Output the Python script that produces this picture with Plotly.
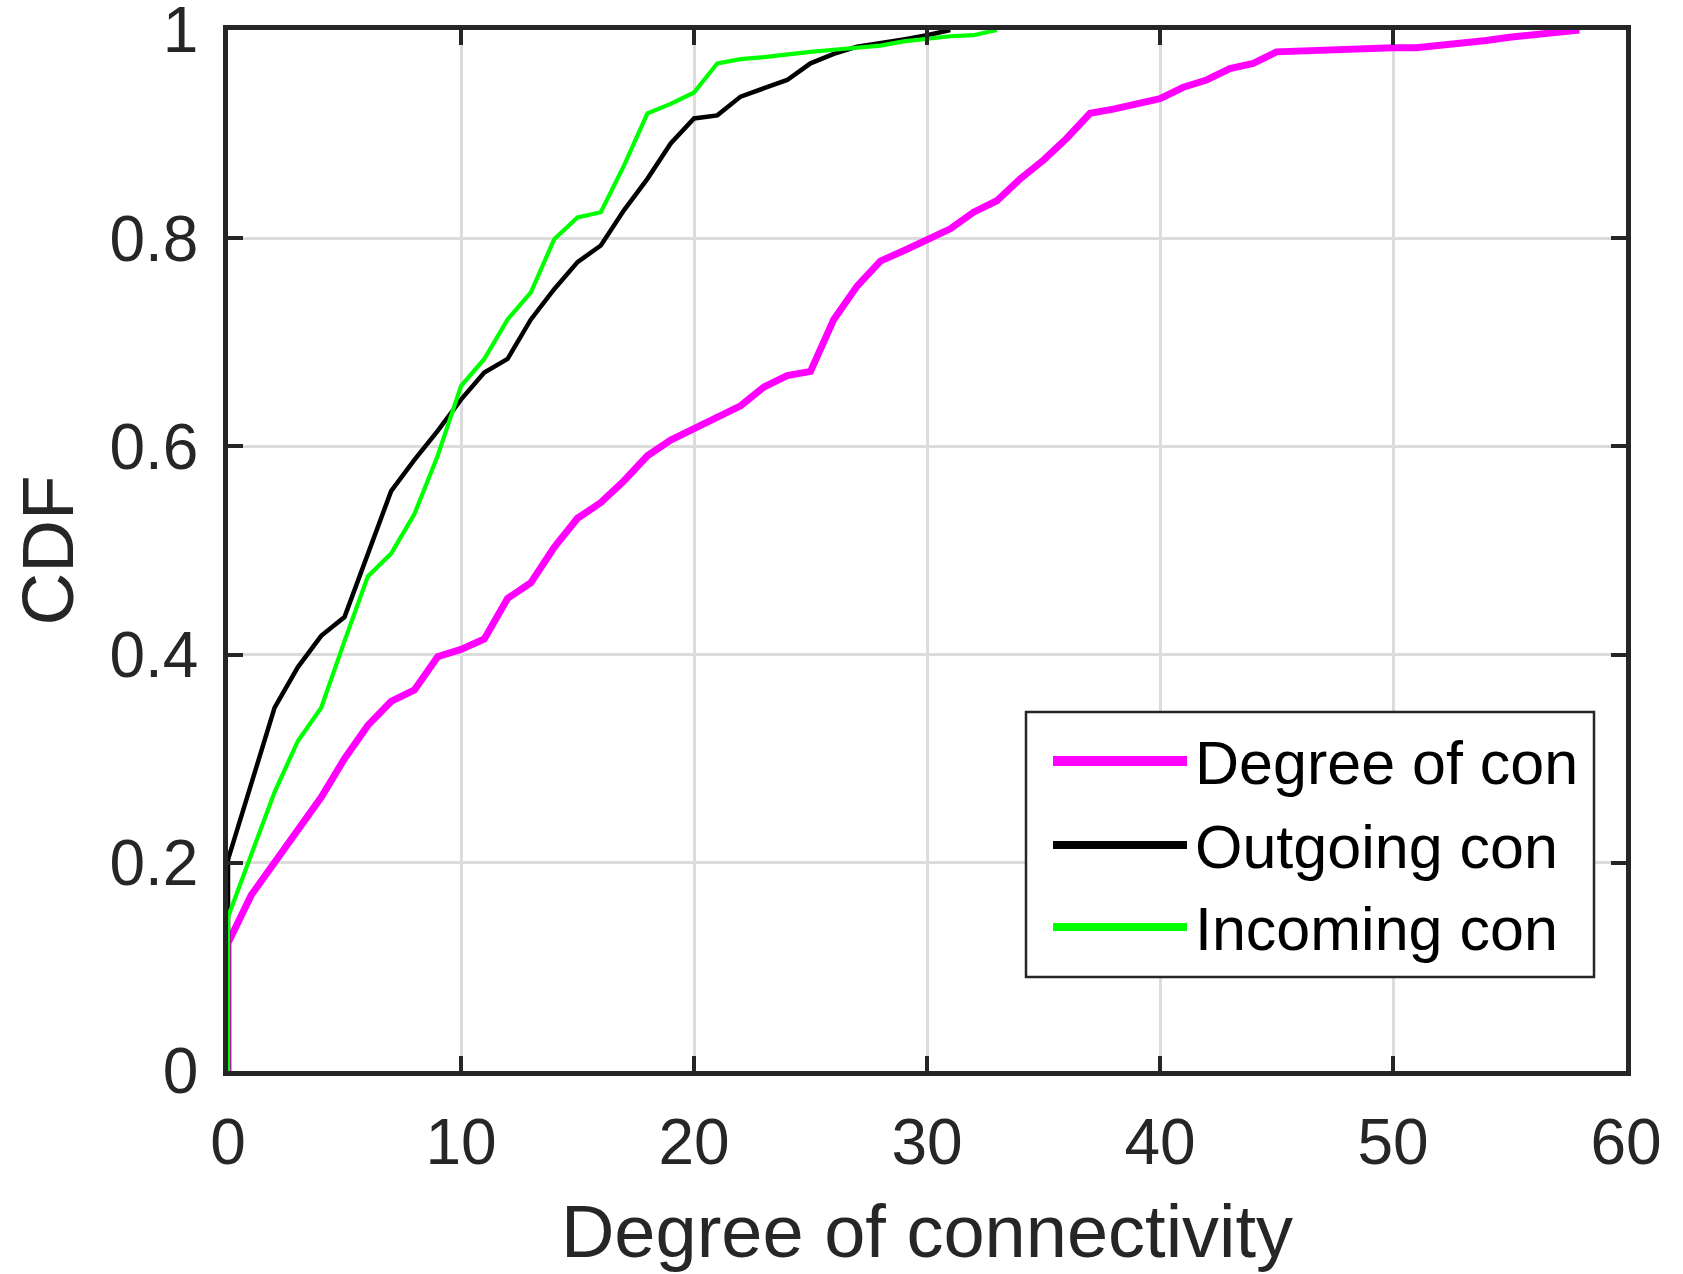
import plotly.graph_objects as go

# ---------------- data ----------------
deg_all_x = [0, 0, 1, 2, 3, 4, 5, 6, 7, 8, 9, 10, 11, 12, 13, 14, 15, 16, 17, 18, 19,
             20, 21, 22, 23, 24, 25, 26, 27, 28, 29, 30, 31, 32, 33, 34, 35, 36, 37, 38, 39,
             40, 41, 42, 43, 44, 45, 46, 47, 48, 49, 50, 51, 52, 53, 54, 55, 56, 57, 58]
deg_all_cdf = [0.0, 0.123, 0.169, 0.200, 0.233, 0.263, 0.300, 0.332, 0.355, 0.366, 0.398,
               0.405, 0.415, 0.454, 0.469, 0.503, 0.531, 0.546, 0.567, 0.591, 0.606,
               0.617, 0.628, 0.639, 0.657, 0.668, 0.672, 0.722, 0.754, 0.778, 0.788,
               0.799, 0.809, 0.825, 0.836, 0.857, 0.875, 0.896, 0.920, 0.924, 0.929,
               0.934, 0.945, 0.952, 0.963, 0.968, 0.979, 0.980, 0.980, 0.981, 0.982,
               0.983, 0.983, 0.985, 0.987, 0.990, 0.993, 0.995, 0.998, 1.000]

out_x = [0, 0, 1, 2, 3, 4, 5, 6, 7, 8, 9, 10, 11, 12, 13, 14, 15, 16, 17, 18, 19,
         20, 21, 22, 23, 24, 25, 26, 27, 28, 29, 30, 31]
out_cdf = [0.0, 0.203, 0.276, 0.349, 0.388, 0.418, 0.436, 0.497, 0.557, 0.587, 0.615,
           0.645, 0.671, 0.684, 0.722, 0.751, 0.777, 0.793, 0.827, 0.857, 0.891,
           0.915, 0.918, 0.936, 0.944, 0.952, 0.968, 0.977, 0.984, 0.987, 0.991,
           0.995, 1.000]

in_x = [0, 0, 1, 2, 3, 4, 5, 6, 7, 8, 9, 10, 11, 12, 13, 14, 15, 16, 17, 18, 19,
        20, 21, 22, 23, 24, 25, 26, 27, 28, 29, 30, 31, 32, 33]
in_cdf = [0.0, 0.148, 0.208, 0.268, 0.317, 0.349, 0.413, 0.475, 0.497, 0.535, 0.591,
          0.658, 0.684, 0.722, 0.748, 0.799, 0.820, 0.825, 0.870, 0.920, 0.929,
          0.940, 0.968, 0.972, 0.974, 0.977, 0.979, 0.981, 0.983, 0.985, 0.989,
          0.992, 0.994, 0.995, 1.000]

series_names = ["Degree of con", "Outgoing con", "Incoming con"]
series_colors = ["#FF00FF", "#000000", "#00FF00"]
series_widths = [7, 4.5, 4.2]
legend_widths = [10, 8, 8]

x_ticks = [0, 10, 20, 30, 40, 50, 60]
y_ticks = [0, 0.2, 0.4, 0.6, 0.8, 1]
y_tick_text = ["0", "0.2", "0.4", "0.6", "0.8", "1"]

# ---------------- figure ----------------
FONT = "Liberation Sans, Arial, Helvetica, sans-serif"
AX = "#262626"

fig = go.Figure()
for xs, ys, name, col, w in zip([deg_all_x, out_x, in_x],
                                [deg_all_cdf, out_cdf, in_cdf],
                                series_names, series_colors, series_widths):
    fig.add_trace(go.Scatter(x=xs, y=ys, mode="lines", name=name,
                             line=dict(color=col, width=w),
                             showlegend=False))

W, H = 1683, 1274
L, R, T, B = 228, 1626, 30, 1071
fig.update_layout(
    width=W, height=H,
    margin=dict(l=L, r=W - R, t=T, b=H - B, autoexpand=False),
    plot_bgcolor="white", paper_bgcolor="white",
    font=dict(family=FONT, color=AX),
    showlegend=False,
)

axis_common = dict(
    showline=True, linecolor=AX, linewidth=4.5, mirror="ticks",
    ticks="inside", ticklen=15, tickwidth=4, tickcolor=AX,
    showgrid=True, gridcolor="#DCDCDC", gridwidth=3,
    zeroline=False,
    tickfont=dict(family=FONT, size=64, color=AX),
    ticklabeloverflow="allow",
    automargin=False,
)
fig.update_xaxes(range=[0, 60], tickvals=x_ticks, ticklabelstandoff=11,
                 title=dict(text="Degree of connectivity",
                            font=dict(family=FONT, size=74, color=AX), standoff=30),
                 **axis_common)
fig.update_yaxes(range=[0, 1], tickvals=y_ticks, ticktext=y_tick_text,
                 ticklabelstandoff=12,
                 title=dict(text="CDF",
                            font=dict(family=FONT, size=73, color=AX), standoff=13),
                 **axis_common)

# ---------------- legend (drawn manually to match sample lengths) ----------------
def px_x(p):
    return (p - L) / (R - L)

def px_y(p):
    return (B - p) / (B - T)

fig.add_shape(type="rect", xref="paper", yref="paper",
              x0=px_x(1026), x1=px_x(1594), y0=px_y(977), y1=px_y(712),
              line=dict(color=AX, width=2.5), fillcolor="white", layer="above")

row_y = [761, 845, 927]
for name, col, lw, ry in zip(series_names, series_colors, legend_widths, row_y):
    fig.add_shape(type="line", xref="paper", yref="paper",
                  x0=px_x(1053), x1=px_x(1187), y0=px_y(ry), y1=px_y(ry),
                  line=dict(color=col, width=lw), layer="above")
    fig.add_annotation(xref="paper", yref="paper", x=px_x(1193), y=px_y(ry + 2),
                       text=name, showarrow=False, xanchor="left", yanchor="middle",
                       font=dict(family=FONT, size=61, color="#000000"))

fig.write_html("out.html")
